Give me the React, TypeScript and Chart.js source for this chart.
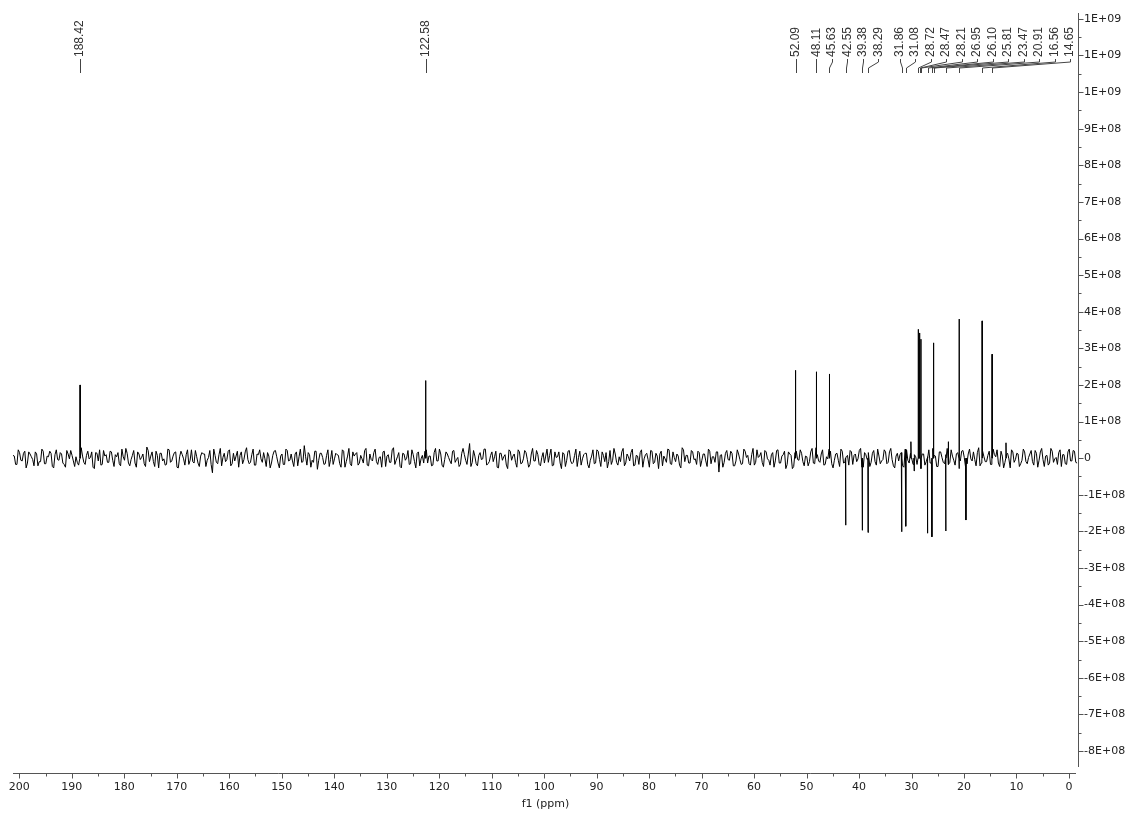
import { useEffect, useRef } from "react";
import { Chart, registerables } from "chart.js";

Chart.register(...registerables);

// ---------- data ----------
const NOISE_START_PPM = 201.2;
const NOISE_STEP_PPM = 0.25;
const NOISE_UNIT = 1.9e6;
// baseline noise: noiseA = even samples (listed left to right),
// noiseB = odd samples (listed right to left)
const noiseA = [
  4, -9, 12, -3, 7, -14, 9, 2, -11, 6, -5, 13, -8, 3, 10, -12, 5, -2, 8, -7,
  -13, 6, 11, -4, 2, -10, 15, -6, 4, -1, 9, -15, 7, 12, -9, 3, -6, 10, -3, 5,
  8, -11, 2, 14, -7, -2, 11, -13, 6, 1, -8, 16, -5, 9, -12, 4, 7, -4, -10, 13,
  -6, 3, 9, -14, 10, -1, 5, -9, 12, -7, 2, -12, 8, 6, -3, 11, -21, 4, -8, 14,
  1, -5, 10, -11, 7, 3, -13, 9, -2, 15, -8, 5, -10, 6, 12, -6, -1, 8, -14, 4,
  11, -7, 3, -9, 13, -4, 6, -12, 9, 2, -6, 18, -10, 5, -3, 10, -16, 7, 1, -8,
  12, -2, -9, 7, 4, -13, 10, -5, 14, -11, 3, 8, -7, -1, 11, -10, 6, -4, 13, -9,
  2, 9, -12, 5, -6, 15, -3, 8, -14, 6, 0, -9, 12, -5, 7, -11, 4, 10, -7, 3,
  -10, 14, -4, 6, -13, 9, 1, -8, 11, -2, -12, 7, 5, -9, 21, -6, 3, -11, 8, -1,
  13, -8, 4, -5, 10, -14, 7, 2, -10, 12, -3, 6, -13, 9, -7, 11, -2, -9, 14, -4,
  5, -11, 8, 3, -6, 13, -10, 1, 9, -15, 6, -3, 11, -8, 4, -12, 10, -1, 7, -9,
  -3, 12, -7, 10, -12, 4, 8, -5, -9, 14, -6, 2, 9, -11, 6, -4, 13, -10, 3, 8,
  -13, 5, -2, 11, -8, 7, -15, 10, 3, -6, 12, -9, 1, 6, -10, 15, -5, 4, -7, 9,
  -1, 10, -12, 6, -4, 13, -8, 2, 9, -20, 5, -6, 11, -3, 7, -11, 12, -2, -8, 10,
  4, -10, 14, -6, 1, 8, -12, 9, -3, 5, -13, 11, -7, 3, 10, -9, 6, -15, 8, -2,
  12, -5, 3, -11, 9, -7, 15, -4, 6, -10, 2, 13, -8, -3, 7, -12, 10, -6, 4, 11,
  -9, 6, -1, 14, -13, 5, 8, -6, 11, -10, 3, -4, 12, -8, 9, -2, -14, 7, 5, -11,
  13, -3, 7, -9, 2, 10, -15, 6, -5, 12, -7, 4, -12, 9, 1, -8, 14, -6, 3, -10,
  8, -4, 11, -13, 6, -1, 9, -11, 15, -7, 2, -5, 10, -9, 5, 12, -12, 3, -6, 7,
  -14, 9, -2, 6, -8, 13, -5, 1, 11, -10, 7, -3, 14, -12, 4, -7, 10, -1, -9, 12,
  5, -8, 9, -4, 11, -6,
];
const noiseB = [
  -7, 10, -4, 13, -9, 5, -12, 8, 1, -6, 14, -10, 3, -2, 9, -13, 11, -5, 6, -8,
  9, -3, -12, 7, -6, 12, -1, 5, -14, 10, -7, 2, 13, -9, 4, -5, 11, -11, 8, -2,
  -4, 13, -8, 1, 10, -15, 6, -3, 12, -9, 5, -6, 9, -12, 3, 14, -7, 2, -10, 6,
  11, -9, 5, -1, -7, 12, -13, 8, -4, 3, -11, 14, -6, 9, -2, -8, 13, -5, 7, -12,
  -2, 8, -13, 11, -5, 4, 9, -10, 2, -7, 13, -3, 6, -14, 10, -1, -9, 12, -6, 5,
  -8, 14, -5, 2, -11, 7, -3, 10, -12, 4, 9, -15, 5, -7, 12, -4, 8, -10, -1, 11,
  -6, 3, 12, -10, 5, -8, 1, 13, -9, 6, -4, -11, 10, -2, 7, -13, 4, 9, -6, 2,
  10, -12, 6, -3, 8, -9, -2, 11, -7, 4, 12, -14, 3, -5, 9, -8, 13, -1, -11, 6,
  3, -6, 10, -13, 7, -1, 12, -9, 4, -11, 8, 2, -7, 14, -5, -10, 6, -3, 11, -14,
  -5, 9, -2, 12, -8, 3, -14, 7, 5, -10, 1, 13, -6, -4, 10, -12, 8, -7, 2, 9,
  -11, 4, 13, -7, 1, -9, 11, -4, 6, -13, 8, -1, -8, 12, -6, 3, 10, -15, 5, -3,
  7, -13, 2, 9, -5, -10, 13, -2, 4, -8, 11, -12, 6, -3, 14, -9, 1, -6, 10, -4,
  6, -2, -10, 13, -4, 8, -11, 3, 12, -7, -1, 9, -14, 5, -8, 11, -3, 7, -12, 2,
  -9, 12, -6, 3, 10, -13, 1, -5, 8, -2, -11, 14, -7, 4, -10, 6, 9, -8, 3, -13,
  12, -8, 5, -1, 11, -12, 4, -9, 7, -3, 10, -6, -13, 8, 2, -5, 13, -11, 6, -4,
  -3, 11, -9, 6, -14, 2, 10, -7, 3, -12, 8, -1, 5, -10, 13, -6, -2, 9, -8, 4,
  10, -4, -8, 12, -2, 7, -11, 5, -6, 13, -9, 1, -12, 6, 3, -7, 11, -5, -3, 12,
  -10, 5, 2, -13, 8, -4, 12, -9, -1, 7, -14, 10, -5, 3, 11, -12, 6, -2, 9, -7,
  4, -11, 7, -3, 13, -8, 2, -12, 9, -6, 5, 11, -10, -4, 8, -13, 1, 10, -9, 3,
  8, -6, -12, 4, -1, 11, -9, 6, -3, 12, -14, 7, 2, -8, 10, -5, -11, 9, -2, 6,
  -7, 10, -4, 8, -9, 3,
];

const labeledPeakPpm = [
  188.42, 122.58, 52.09, 48.11, 45.63, 42.55, 39.38, 38.29, 31.86, 31.08,
  28.72, 28.47, 28.21, 26.95, 26.1, 25.81, 23.47, 20.91, 16.56, 14.65,
];
const labeledPeakText = [
  "188.42", "122.58", "52.09", "48.11", "45.63", "42.55", "39.38", "38.29", "31.86", "31.08",
  "28.72", "28.47", "28.21", "26.95", "26.10", "25.81", "23.47", "20.91", "16.56", "14.65",
];
const labeledPeakHeight = [
  2.0e8, 2.12e8, 2.4e8, 2.36e8, 2.3e8, -1.83e8, -1.97e8, -2.03e8, -2.01e8, -1.86e8,
  3.52e8, 3.42e8, 3.25e8, -2.05e8, -2.15e8, 3.15e8, -1.99e8, 3.8e8, 3.75e8, 2.84e8,
];
const otherPeakPpm = [30.1, 29.5, 23.0, 19.62, 12.0];
const otherPeakHeight = [0.45e8, -0.35e8, 0.45e8, -1.69e8, 0.42e8];

const xTickValues = [200, 190, 180, 170, 160, 150, 140, 130, 120, 110, 100, 90, 80, 70, 60, 50, 40, 30, 20, 10, 0];
const xTickLabels = ["200", "190", "180", "170", "160", "150", "140", "130", "120", "110", "100", "90", "80", "70", "60", "50", "40", "30", "20", "10", "0"];
const yTickValues = [
  1.2e9, 1.1e9, 1.0e9, 9e8, 8e8, 7e8, 6e8, 5e8, 4e8, 3e8, 2e8, 1e8, 0,
  -1e8, -2e8, -3e8, -4e8, -5e8, -6e8, -7e8, -8e8,
];
const yTickLabels = [
  "1E+09", "1E+09", "1E+09", "9E+08", "8E+08", "7E+08", "6E+08", "5E+08", "4E+08", "3E+08", "2E+08", "1E+08", "0",
  "-1E+08", "-2E+08", "-3E+08", "-4E+08", "-5E+08", "-6E+08", "-7E+08", "-8E+08",
];

const X_MIN = -1.72;
const X_MAX = 201.2;
const Y_MIN = -8.6e8;
const Y_MAX = 1.216e9;

// ---------- build spectrum table ----------
function buildSpectrum() {
  const pts: { x: number; y: number }[] = [];
  const n = noiseA.length + noiseB.length;
  for (let i = 0; i < n; i++) {
    const v = i % 2 === 0 ? noiseA[i / 2] : noiseB[noiseB.length - 1 - (i - 1) / 2];
    const x = NOISE_START_PPM - i * NOISE_STEP_PPM;
    if (x < X_MIN - 0.5) break;
    pts.push({ x, y: v * NOISE_UNIT });
  }
  const addPeak = (ppm: number, h: number) => {
    pts.push({ x: ppm + 0.04, y: 0 });
    pts.push({ x: ppm, y: h });
    pts.push({ x: ppm - 0.04, y: 0 });
  };
  labeledPeakPpm.forEach((p, i) => addPeak(p, labeledPeakHeight[i]));
  otherPeakPpm.forEach((p, i) => addPeak(p, otherPeakHeight[i]));
  pts.sort((a, b) => b.x - a.x);
  return pts;
}

// ---------- label layout: push right to keep a minimum gap, then pull back from the right edge ----------
function layoutLabels(ideal: number[], gap: number, minX: number, maxX: number) {
  const out = ideal.slice();
  for (let i = 0; i < out.length; i++) {
    if (i > 0) out[i] = Math.max(ideal[i], out[i - 1] + gap);
    if (out[i] < minX) out[i] = minX;
  }
  for (let i = out.length - 1; i >= 0; i--) {
    const lim = i === out.length - 1 ? maxX : out[i + 1] - gap;
    if (out[i] > lim) out[i] = lim;
  }
  return out;
}

const FONT_FAMILY = '"DejaVu Sans", Verdana, sans-serif';

const decorPlugin = {
  id: "spectrumDecor",
  afterDraw(chart: any) {
    const { ctx, chartArea: ca, scales } = chart;
    const xs = scales.x;
    const ys = scales.y;
    ctx.save();
    ctx.lineWidth = 1;
    ctx.strokeStyle = "#555";

    // x axis
    const xb = Math.round(ca.bottom) + 0.5;
    ctx.beginPath();
    ctx.moveTo(ca.left, xb);
    ctx.lineTo(ca.right - 2, xb);
    xTickValues.forEach((v) => {
      const px = Math.round(xs.getPixelForValue(v)) + 0.5;
      ctx.moveTo(px, xb);
      ctx.lineTo(px, xb + 5);
    });
    for (let i = 0; i < xTickValues.length - 1; i++) {
      const m = (xTickValues[i] + xTickValues[i + 1]) / 2;
      const px = Math.round(xs.getPixelForValue(m)) + 0.5;
      ctx.moveTo(px, xb);
      ctx.lineTo(px, xb + 3);
    }
    ctx.stroke();

    // y axis
    const yx = Math.round(ca.right) + 0.5;
    ctx.beginPath();
    ctx.moveTo(yx, ca.top);
    ctx.lineTo(yx, ca.bottom - 6);
    yTickValues.forEach((v) => {
      const py = Math.round(ys.getPixelForValue(v)) + 0.5;
      ctx.moveTo(yx, py);
      ctx.lineTo(yx + 5, py);
    });
    for (let i = 0; i < yTickValues.length - 1; i++) {
      const m = (yTickValues[i] + yTickValues[i + 1]) / 2;
      const py = Math.round(ys.getPixelForValue(m)) + 0.5;
      ctx.moveTo(yx, py);
      ctx.lineTo(yx + 3, py);
    }
    ctx.stroke();

    // peak labels
    const order = labeledPeakPpm.map((_, i) => i).sort((a, b) => labeledPeakPpm[b] - labeledPeakPpm[a]);
    const ideal = order.map((i) => xs.getPixelForValue(labeledPeakPpm[i]));
    const pos = layoutLabels(ideal, 15.5, ca.left + 8, ca.right - 8);
    const textBottom = 57;
    ctx.strokeStyle = "#444";
    ctx.beginPath();
    order.forEach((_, k) => {
      const lx = Math.round(pos[k]) + 0.5;
      const px = Math.round(ideal[k]) + 0.5;
      ctx.moveTo(lx, textBottom + 2);
      ctx.lineTo(lx, textBottom + 5);
      ctx.lineTo(px, textBottom + 11);
      ctx.lineTo(px, textBottom + 16);
    });
    ctx.stroke();
    ctx.fillStyle = "#333";
    ctx.font = '12px "Liberation Sans", Arial, sans-serif';
    ctx.textAlign = "left";
    ctx.textBaseline = "middle";
    order.forEach((idx, k) => {
      ctx.save();
      ctx.translate(pos[k], textBottom);
      ctx.rotate(-Math.PI / 2);
      ctx.fillText(labeledPeakText[idx], 0, 0);
      ctx.restore();
    });
    ctx.restore();
  },
};

export default function App() {
  const ref = useRef<HTMLCanvasElement>(null);
  useEffect(() => {
    if (!ref.current) return;
    const data = buildSpectrum();
    const chart = new Chart(ref.current, {
      type: "line",
      data: {
        datasets: [
          {
            data,
            borderColor: "#000",
            borderWidth: 1,
            pointRadius: 0,
            tension: 0,
            fill: false,
          },
        ],
      },
      options: {
        animation: false,
        responsive: false,
        devicePixelRatio: 1,
        parsing: false as any,
        layout: { padding: { top: 13, left: 13, right: 0, bottom: 0 } },
        plugins: { legend: { display: false }, tooltip: { enabled: false } },
        scales: {
          x: {
            type: "linear",
            position: "bottom",
            reverse: true,
            min: X_MIN,
            max: X_MAX,
            grid: { display: false, drawTicks: false, tickLength: 0 },
            border: { display: false },
            afterBuildTicks: (s: any) => {
              s.ticks = xTickValues.map((v) => ({ value: v }));
            },
            afterFit: (s: any) => {
              s.height = 43;
            },
            ticks: {
              autoSkip: false,
              maxRotation: 0,
              padding: 8,
              color: "#222",
              font: { family: FONT_FAMILY, size: 11 },
              callback: (v: any) => {
                const i = xTickValues.indexOf(Number(v));
                return i >= 0 ? xTickLabels[i] : "";
              },
            },
            title: {
              display: true,
              text: "f1 (ppm)",
              color: "#222",
              font: { family: FONT_FAMILY, size: 11 },
              padding: { top: 0, bottom: 5 },
            },
          },
          y: {
            type: "linear",
            position: "right",
            min: Y_MIN,
            max: Y_MAX,
            grid: { display: false, drawTicks: false, tickLength: 0 },
            border: { display: false },
            afterBuildTicks: (s: any) => {
              s.ticks = yTickValues.map((v) => ({ value: v }));
            },
            afterFit: (s: any) => {
              s.width = 54;
            },
            ticks: {
              autoSkip: false,
              padding: 6,
              color: "#222",
              font: { family: FONT_FAMILY, size: 11 },
              callback: (v: any) => {
                const i = yTickValues.indexOf(Number(v));
                return i >= 0 ? yTickLabels[i] : "";
              },
            },
          },
        },
      },
      plugins: [decorPlugin],
    });
    return () => chart.destroy();
  }, []);
  return (
    <div style={{ position: "fixed", left: 0, top: 0, width: 1132, height: 816, background: "#fff" }}>
      <canvas ref={ref} width={1132} height={816} style={{ display: "block" }} />
    </div>
  );
}
